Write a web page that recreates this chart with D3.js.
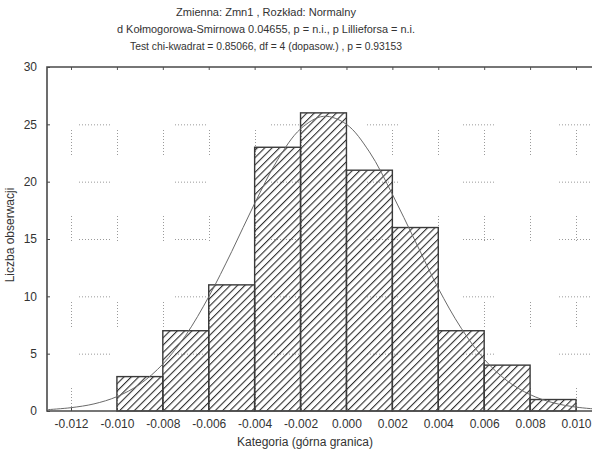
<!DOCTYPE html>
<html>
<head>
<meta charset="utf-8">
<script src="https://cdn.jsdelivr.net/npm/d3@7/dist/d3.min.js"></script>
<style>
  body { margin: 0; background: #fff; }
  text { font-family: "Liberation Sans", Arial, sans-serif; fill: #333; }
  .title { font-family: "Liberation Sans Narrow", "Liberation Sans", Arial, sans-serif; font-size: 11px; }
</style>
</head>
<body>
<div id="chart"></div>
<script>
// histogram data
var binStart = [-0.010, -0.008, -0.006, -0.004, -0.002, 0.000, 0.002, 0.004, 0.006, 0.008];
var binEnd   = [-0.008, -0.006, -0.004, -0.002, 0.000, 0.002, 0.004, 0.006, 0.008, 0.010];
var counts   = [3, 7, 11, 23, 26, 21, 16, 7, 4, 1];

var xTicks = [-0.012, -0.010, -0.008, -0.006, -0.004, -0.002, 0.000, 0.002, 0.004, 0.006, 0.008, 0.010];
var yTicks = [0, 5, 10, 15, 20, 25, 30];

// fitted normal curve, estimated points
var curveX = [-0.013, -0.012, -0.011, -0.010, -0.009, -0.008, -0.007, -0.006, -0.005, -0.004, -0.003, -0.002,
              -0.001, 0.000, 0.001, 0.002, 0.003, 0.004, 0.005, 0.006, 0.007, 0.008, 0.009, 0.010, 0.011];
var curveY = [0.12, 0.29, 0.62, 1.25, 2.34, 4.09, 6.61, 9.96, 13.9, 18.1, 21.9, 24.6,
              25.7, 25.0, 22.6, 18.9, 14.8, 10.7, 7.22, 4.52, 2.63, 1.43, 0.72, 0.34, 0.15];

var titleLines = [
  "Zmienna:  Zmn1 , Rozkład: Normalny",
  "d Kołmogorowa-Smirnowa 0.04655, p = n.i., p Lillieforsa = n.i.",
  "Test chi-kwadrat = 0.85066, df = 4 (dopasow.) , p = 0.93153"
];

var width = 592, height = 453;
var plot = {left: 47, right: 600, top: 67, bottom: 411};

var svg = d3.select("#chart").append("svg")
  .attr("width", width)
  .attr("height", height);

var x = d3.scaleLinear().domain([-0.012, 0.010]).range([71, 576]);
var y = d3.scaleLinear().domain([0, 30]).range([plot.bottom, plot.top]);

var defs = svg.append("defs");
defs.append("clipPath").attr("id", "plotClip")
  .append("rect")
  .attr("x", plot.left).attr("y", plot.top)
  .attr("width", plot.right - plot.left).attr("height", plot.bottom - plot.top);

var hatch = defs.append("pattern")
  .attr("id", "hatch")
  .attr("patternUnits", "userSpaceOnUse")
  .attr("width", 5.2).attr("height", 10)
  .attr("patternTransform", "rotate(45)");
hatch.append("line")
  .attr("x1", 0).attr("y1", 0).attr("x2", 0).attr("y2", 10)
  .attr("stroke", "#2e2e2e").attr("stroke-width", 2.2);

// dotted grid segments (broken like the original)
function dots(n, gap) {
  var a = [];
  for (var i = 0; i < n; i++) a.push("1,2");
  a[a.length - 1] = "1," + gap;
  return a.join(",");
}

var grid = svg.append("g").attr("clip-path", "url(#plotClip)");
grid.selectAll(".hgrid")
  .data(yTicks.filter(function(d) { return d > 0 && d < 30; }))
  .enter().append("line")
  .attr("x1", plot.left + 32).attr("x2", plot.right)
  .attr("y1", function(d) { return y(d) + 0.5; })
  .attr("y2", function(d) { return y(d) + 0.5; })
  .attr("stroke", "#9a9a9a")
  .attr("stroke-dasharray", dots(11, 65));

grid.selectAll(".vgrid")
  .data(xTicks)
  .enter().append("line")
  .attr("x1", function(d) { return Math.round(x(d)) + 0.5; })
  .attr("x2", function(d) { return Math.round(x(d)) + 0.5; })
  .attr("y1", plot.top + 63).attr("y2", plot.bottom)
  .attr("stroke", "#9a9a9a")
  .attr("stroke-dasharray", dots(9, 61));

// bars
var bars = svg.append("g");
bars.selectAll("rect")
  .data(counts)
  .enter().append("rect")
  .attr("x", function(d, i) { return x(binStart[i]); })
  .attr("y", function(d) { return y(d); })
  .attr("width", function(d, i) { return x(binEnd[i]) - x(binStart[i]); })
  .attr("height", function(d) { return y(0) - y(d); })
  .attr("fill", "url(#hatch)")
  .attr("stroke", "#3a3a3a")
  .attr("stroke-width", 1.4);

// normal curve
var line = d3.line()
  .x(function(d, i) { return x(curveX[i]); })
  .y(function(d) { return y(d); })
  .curve(d3.curveCatmullRom);

svg.append("path")
  .datum(curveY)
  .attr("clip-path", "url(#plotClip)")
  .attr("d", line)
  .attr("fill", "none")
  .attr("stroke", "#6a6a6a")
  .attr("stroke-width", 1);

// axes
var yAxis = d3.axisLeft(y).tickValues(yTicks).tickSizeInner(-3).tickSizeOuter(0).tickPadding(10);
var yg = svg.append("g").attr("transform", "translate(" + plot.left + ",0)").call(yAxis);
yg.select(".domain").remove();
yg.selectAll("line").attr("stroke", "#444");
yg.selectAll("text").style("font-size", "12px").style("fill", "#333");

var xAxis = d3.axisBottom(x).tickValues(xTicks).tickFormat(d3.format(".3f")).tickSizeInner(-3).tickSizeOuter(0).tickPadding(8);
var xg = svg.append("g").attr("transform", "translate(0," + plot.bottom + ")").call(xAxis);
xg.select(".domain").remove();
xg.selectAll("line").attr("stroke", "#444");
xg.selectAll("text").style("font-size", "12px").style("fill", "#333")
  .text(function(d) { return d3.format(".3f")(d).replace("−", "-"); });

var topAxis = d3.axisTop(x).tickValues(xTicks).tickSizeInner(-3).tickSizeOuter(0).tickFormat("");
var tg = svg.append("g").attr("transform", "translate(0," + plot.top + ")").call(topAxis);
tg.select(".domain").remove();
tg.selectAll("line").attr("stroke", "#555");

// frame
svg.append("path")
  .attr("d", "M" + plot.right + "," + plot.top + "H" + plot.left + "V" + plot.bottom + "H" + plot.right)
  .attr("fill", "none")
  .attr("stroke", "#4a4a4a")
  .attr("stroke-width", 1.6);

// titles
var titleW = [180, 298, 272];
svg.selectAll(".title")
  .data(titleLines)
  .enter().append("text")
  .attr("class", "title")
  .attr("x", 266)
  .attr("y", function(d, i) { return 16 + i * 17; })
  .attr("text-anchor", "middle")
  .attr("textLength", function(d, i) { return titleW[i]; })
  .attr("lengthAdjust", "spacingAndGlyphs")
  .text(function(d) { return d; });

svg.append("text")
  .attr("x", 305).attr("y", 446)
  .attr("text-anchor", "middle")
  .style("font-size", "12px")
  .text("Kategoria (górna granica)");

svg.append("text")
  .attr("transform", "translate(14,235) rotate(-90)")
  .attr("text-anchor", "middle")
  .style("font-size", "12px")
  .text("Liczba obserwacji");
</script>
</body>
</html>
